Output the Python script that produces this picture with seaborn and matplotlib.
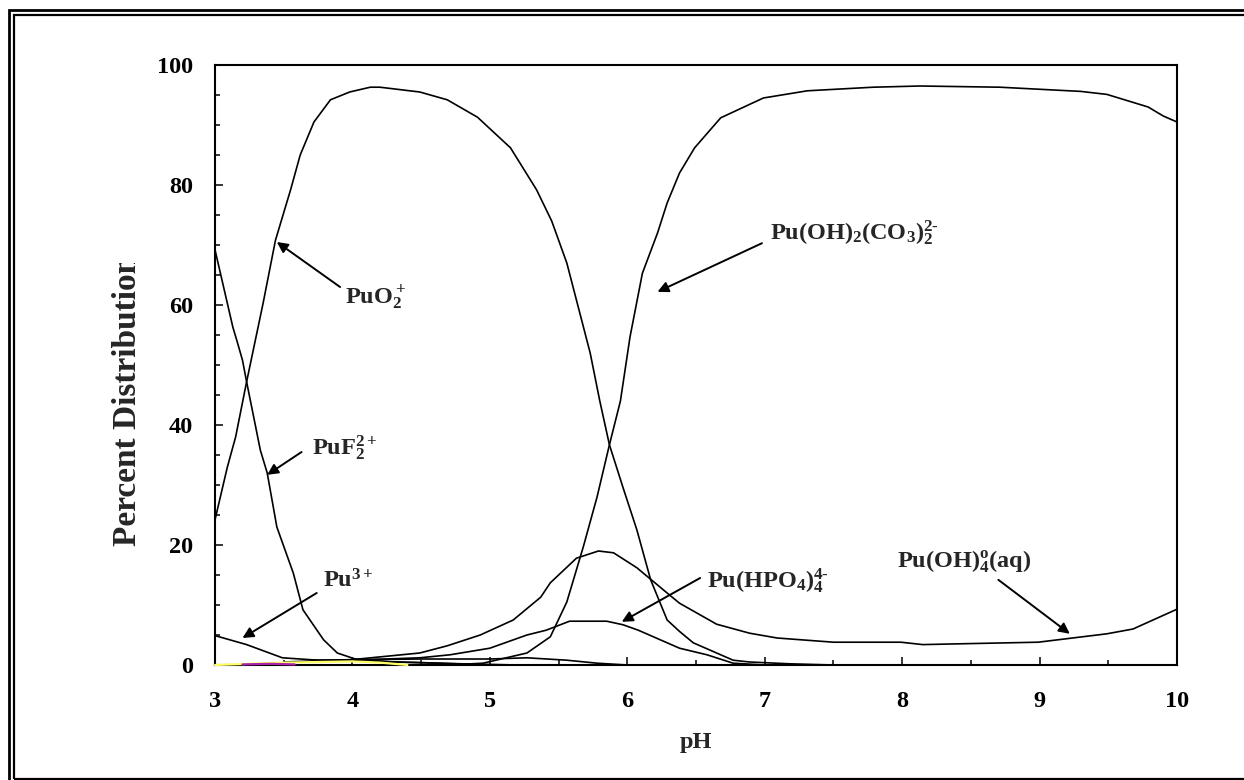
import matplotlib
matplotlib.use("Agg")
import matplotlib.pyplot as plt
import seaborn as sns
from matplotlib.patches import Rectangle
from matplotlib.ticker import MultipleLocator
from matplotlib.transforms import Bbox

# values (pH, percent distribution)
ph_puo2 = [3.00, 3.09, 3.15, 3.23, 3.35, 3.44, 3.55, 3.62, 3.72, 3.84, 3.98, 4.13, 4.20, 4.49,
           4.69, 4.91, 5.15, 5.34, 5.45, 5.56, 5.73, 5.80, 5.87, 5.97, 6.07, 6.17, 6.29, 6.38,
           6.48, 6.60, 6.77, 6.89, 7.18, 7.50]
pct_puo2 = [24.2, 33.0, 38.0, 47.2, 60.3, 70.8, 79.2, 85.0, 90.5, 94.2, 95.5, 96.3, 96.3, 95.5,
            94.2, 91.3, 86.2, 79.2, 74.0, 67.0, 52.0, 44.0, 36.7, 29.5, 22.5, 14.2, 7.5, 5.6,
            3.7, 2.5, 0.8, 0.5, 0.2, 0.0]

ph_puf2 = [3.00, 3.13, 3.16, 3.20, 3.23, 3.33, 3.38, 3.45, 3.57, 3.64, 3.79, 3.89, 4.02, 4.30, 4.80, 5.20]
pct_puf2 = [69.2, 56.3, 54.0, 50.8, 47.2, 35.8, 32.0, 23.0, 15.3, 9.2, 4.2, 2.0, 1.0, 0.5, 0.2, 0.0]

ph_pu3 = [3.00, 3.23, 3.49, 3.75, 4.00, 4.50, 5.00]
pct_pu3 = [4.9, 3.4, 1.2, 0.8, 0.7, 0.4, 0.0]

ph_minor = [3.70, 4.50, 5.00, 5.27, 5.56, 5.78, 6.00]
pct_minor = [0.8, 1.0, 1.0, 1.2, 0.8, 0.3, 0.0]

ph_oh4 = [3.50, 4.00, 4.49, 4.69, 4.93, 5.17, 5.37, 5.44, 5.63, 5.79, 5.90, 6.07, 6.29, 6.38,
          6.65, 6.89, 7.09, 7.50, 7.99, 8.15, 8.35, 8.99, 9.24, 9.49, 9.68, 10.00]
pct_oh4 = [0.5, 0.9, 2.0, 3.2, 5.0, 7.5, 11.3, 13.7, 17.8, 19.0, 18.7, 16.2, 12.0, 10.3,
           6.8, 5.3, 4.5, 3.8, 3.8, 3.4, 3.5, 3.8, 4.5, 5.2, 6.0, 9.3]

ph_hpo4 = [4.00, 4.49, 4.71, 5.00, 5.27, 5.41, 5.58, 5.80, 5.85, 5.97, 6.08, 6.29, 6.38, 6.58, 6.77, 7.00]
pct_hpo4 = [0.8, 1.2, 1.7, 2.8, 5.0, 5.8, 7.3, 7.3, 7.3, 6.7, 5.8, 3.7, 2.8, 1.7, 0.3, 0.0]

ph_co3 = [4.70, 4.95, 5.27, 5.44, 5.56, 5.68, 5.78, 5.87, 5.95, 6.02, 6.11, 6.22, 6.29, 6.38,
          6.49, 6.68, 6.99, 7.31, 7.79, 8.13, 8.71, 9.30, 9.49, 9.79, 9.90, 10.00]
pct_co3 = [0.0, 0.3, 2.0, 4.7, 10.5, 19.7, 28.0, 36.7, 44.0, 54.7, 65.3, 72.0, 77.0, 82.0,
           86.2, 91.2, 94.5, 95.7, 96.3, 96.5, 96.3, 95.6, 95.1, 93.0, 91.5, 90.5]

# faint coloured traces lying on the zero line
ph_yellow = [3.00, 3.50, 4.00, 4.20, 4.40]
pct_yellow = [0.0, 0.4, 0.6, 0.4, 0.0]
ph_magenta = [3.20, 3.40, 3.58]
pct_magenta = [0.1, 0.2, 0.1]

# species labels: text anchor (left, baseline), arrow start, arrow tip
labels = [r'PuO$_2^+$', r'PuF$_2^{2+}$', r'Pu$^{3+}$', r'Pu(HPO$_4$)$_4^{4\text{-}}$',
          r'Pu(OH)$_4^{\mathrm{o}}$(aq)', r'Pu(OH)$_2$(CO$_3$)$_2^{2\text{-}}$']
label_xy = [(3.946, 60.3), (3.706, 35.0), (3.786, 13.0), (6.58, 12.8), (7.96, 16.3), (7.04, 70.8)]
arrow_from = [(3.91, 63.0), (3.63, 35.5), (3.74, 12.0), (6.53, 14.5), (8.70, 14.2), (6.98, 70.3)]
arrow_to = [(3.45, 70.5), (3.38, 31.7), (3.20, 4.5), (5.96, 7.2), (9.22, 5.2), (6.22, 62.2)]

x_ticks = [3, 4, 5, 6, 7, 8, 9, 10]
y_ticks = [0, 20, 40, 60, 80, 100]

sns.set_style("ticks")
plt.rcParams['font.family'] = ['Liberation Serif', 'DejaVu Serif']
plt.rcParams['font.weight'] = 'bold'
plt.rcParams['axes.labelweight'] = 'bold'
plt.rcParams['mathtext.fontset'] = 'custom'
plt.rcParams['mathtext.rm'] = 'Liberation Serif:bold'
plt.rcParams['mathtext.bf'] = 'Liberation Serif:bold'
plt.rcParams['mathtext.it'] = 'Liberation Serif:bold'

fig = plt.figure(figsize=(12.44, 7.8), dpi=100)
ax = fig.add_axes([215 / 1244, 1 - 665 / 780, (1177 - 215) / 1244, 600 / 780])

curves = [(ph_puo2, pct_puo2), (ph_puf2, pct_puf2), (ph_pu3, pct_pu3), (ph_minor, pct_minor),
          (ph_oh4, pct_oh4), (ph_hpo4, pct_hpo4), (ph_co3, pct_co3)]
for xs, ys in curves:
    sns.lineplot(x=xs, y=ys, color='black', lw=1.2, ax=ax)

sns.lineplot(x=ph_yellow, y=pct_yellow, color='#ffff66', lw=1.6, ax=ax, clip_on=False, zorder=5)
sns.lineplot(x=ph_magenta, y=pct_magenta, color='#aa22aa', lw=1.6, ax=ax, clip_on=False, zorder=5)

for text, txy, start, tip in zip(labels, label_xy, arrow_from, arrow_to):
    ax.text(txy[0], txy[1], text, fontsize=17.5, fontweight='bold', ha='left', va='baseline')
    ax.annotate('', xy=tip, xytext=start,
                arrowprops=dict(arrowstyle='-|>', mutation_scale=16, lw=1.4, color='black',
                                shrinkA=0, shrinkB=0))

ax.set_xlim(3, 10)
ax.set_ylim(0, 100)
ax.set_xticks(x_ticks)
ax.set_yticks(y_ticks)
ax.xaxis.set_minor_locator(MultipleLocator(0.5))
ax.yaxis.set_minor_locator(MultipleLocator(5))
ax.tick_params(which='both', direction='in', width=1.1, colors='black', labelsize=17.5)
ax.tick_params(which='major', length=6)
ax.tick_params(which='minor', length=3.6)
ax.tick_params(axis='x', pad=19)
ax.tick_params(axis='y', pad=16)
for sp in ax.spines.values():
    sp.set_linewidth(1.5)
    sp.set_color('black')
ax.set_xlabel('pH', fontsize=17.5, fontweight='bold', labelpad=14)
ax.set_ylabel('')

# y label is cut off at the top in the reference
ylab = fig.text(128 / 1244, 1 - 546 / 780, 'Percent Distribution', rotation=90,
                ha='center', va='bottom', fontsize=24, fontweight='bold')
ylab.set_clip_box(Bbox([[0, 0], [1244, 780 - 263]]))
ylab.set_clip_on(True)

# double frame round the picture
fig.add_artist(Rectangle((9 / 1244, 1 - 800 / 780), 1.1, (800 - 10) / 780, transform=fig.transFigure,
                         fill=False, lw=2.0, edgecolor='black', clip_on=False))
fig.add_artist(Rectangle((14 / 1244, 1 - 779 / 780), 1.1, (779 - 15) / 780, transform=fig.transFigure,
                         fill=False, lw=1.6, edgecolor='black', clip_on=False))

fig.savefig('out.png', dpi=100, facecolor='white')
